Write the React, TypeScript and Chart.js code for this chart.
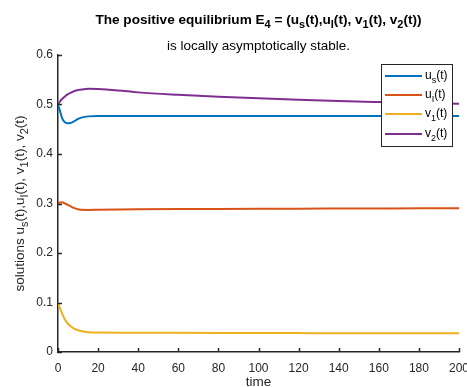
import React, { useEffect, useRef } from "react";
import { Chart, registerables } from "chart.js";

Chart.register(...registerables);

const FONT = '"Liberation Sans", Arial, Helvetica, sans-serif';
const INK = "#262626";

const titleLine1 = "The positive equilibrium E_{4} = (u_{s}(t),u_{I}(t), v_{1}(t), v_{2}(t))";
const titleLine2 = "is locally asymptotically stable.";
const yTitle = "solutions u_{s}(t),u_{I}(t), v_{1}(t), v_{2}(t)";
const xTitle = "time";

const seriesLabels = ["u_{s}(t)", "u_{I}(t)", "v_{1}(t)", "v_{2}(t)"];
const seriesColors = ["#0072BD", "#D95319", "#EDB120", "#7E2F8E"];

const times = [0, 1, 2, 3, 4, 5, 6, 7, 8, 10, 12, 15, 20, 30, 40, 60, 80, 100, 120, 140, 160, 180, 200];
const uS = [0.5, 0.487, 0.473, 0.466, 0.463, 0.462, 0.4625, 0.464, 0.466, 0.471, 0.474, 0.476, 0.4768, 0.4768, 0.4768, 0.4768, 0.4768, 0.4767, 0.4767, 0.4767, 0.4767, 0.4767, 0.4767];
const uI = [0.3, 0.302, 0.3025, 0.301, 0.299, 0.297, 0.295, 0.2925, 0.291, 0.2885, 0.2872, 0.287, 0.2873, 0.2878, 0.2882, 0.2887, 0.289, 0.2893, 0.2896, 0.2898, 0.29, 0.2902, 0.2903];
const v1 = [0.1, 0.088, 0.078, 0.069, 0.062, 0.057, 0.053, 0.05, 0.047, 0.044, 0.042, 0.04, 0.0392, 0.039, 0.039, 0.0388, 0.0386, 0.0384, 0.0382, 0.038, 0.0379, 0.0378, 0.0377];
const v2 = [0.5, 0.506, 0.511, 0.5145, 0.518, 0.521, 0.523, 0.525, 0.527, 0.529, 0.5305, 0.532, 0.5315, 0.5285, 0.5245, 0.5195, 0.5155, 0.5125, 0.5095, 0.507, 0.505, 0.5032, 0.5017];
const seriesValues = [uS, uI, v1, v2];

const xTicks = [0, 20, 40, 60, 80, 100, 120, 140, 160, 180, 200];
const yTicks = [0, 0.1, 0.2, 0.3, 0.4, 0.5, 0.6];

type Part = { t: string; sub: boolean };

function parseRich(s: string): Part[] {
  const parts: Part[] = [];
  const re = /_\{([^}]*)\}/g;
  let last = 0;
  let m: RegExpExecArray | null;
  while ((m = re.exec(s)) !== null) {
    if (m.index > last) parts.push({ t: s.slice(last, m.index), sub: false });
    parts.push({ t: m[1], sub: true });
    last = m.index + m[0].length;
  }
  if (last < s.length) parts.push({ t: s.slice(last), sub: false });
  return parts;
}

function drawRich(
  ctx: CanvasRenderingContext2D,
  s: string,
  x: number,
  y: number,
  size: number,
  bold: boolean,
  align: "left" | "center"
) {
  const parts = parseRich(s);
  const mainFont = `${bold ? "bold " : ""}${size}px ${FONT}`;
  const subFont = `${bold ? "bold " : ""}${Math.round(size * 0.78)}px ${FONT}`;
  let w = 0;
  for (const p of parts) {
    ctx.font = p.sub ? subFont : mainFont;
    w += ctx.measureText(p.t).width;
  }
  let cx = align === "center" ? x - w / 2 : x;
  ctx.textAlign = "left";
  ctx.textBaseline = "alphabetic";
  for (const p of parts) {
    ctx.font = p.sub ? subFont : mainFont;
    ctx.fillText(p.t, cx, y + (p.sub ? size * 0.32 : 0));
    cx += ctx.measureText(p.t).width;
  }
}

const decorPlugin = {
  id: "decor",
  afterDraw(chart: any) {
    const ctx: CanvasRenderingContext2D = chart.ctx;
    const area = chart.chartArea;
    const xs = chart.scales.x;
    const ys = chart.scales.y;
    const cxArea = (area.left + area.right) / 2;
    ctx.save();
    // inward ticks
    ctx.strokeStyle = INK;
    ctx.lineWidth = 1.5;
    ctx.beginPath();
    for (const v of xTicks) {
      const px = Math.round(xs.getPixelForValue(v)) + 0.5;
      ctx.moveTo(px, area.bottom);
      ctx.lineTo(px, area.bottom - 4);
    }
    for (const v of yTicks) {
      const py = Math.round(ys.getPixelForValue(v)) + 0.5;
      ctx.moveTo(area.left, py);
      ctx.lineTo(area.left + 4, py);
    }
    ctx.stroke();

    // titles
    ctx.fillStyle = "#000000";
    drawRich(ctx, titleLine1, cxArea, 24, 13.6, true, "center");
    drawRich(ctx, titleLine2, cxArea, 50, 13.5, false, "center");

    ctx.fillStyle = INK;
    drawRich(ctx, xTitle, cxArea, 386, 13.5, false, "center");

    ctx.save();
    ctx.translate(24, (area.top + area.bottom) / 2);
    ctx.rotate(-Math.PI / 2);
    drawRich(ctx, yTitle, 0, 0, 13.5, false, "center");
    ctx.restore();

    // legend
    const lx = 381, ly = 64, lw = 71, lh = 82;
    ctx.fillStyle = "#ffffff";
    ctx.fillRect(lx, ly, lw, lh);
    ctx.strokeStyle = INK;
    ctx.lineWidth = 1;
    ctx.strokeRect(lx + 0.5, ly + 0.5, lw, lh);
    const rowY = [76, 95, 114, 134];
    for (let i = 0; i < seriesLabels.length; i++) {
      ctx.strokeStyle = seriesColors[i];
      ctx.lineWidth = 2;
      ctx.beginPath();
      ctx.moveTo(385, rowY[i]);
      ctx.lineTo(422, rowY[i]);
      ctx.stroke();
      ctx.fillStyle = "#000000";
      drawRich(ctx, seriesLabels[i], 425, rowY[i] + 3, 12, false, "left");
    }
    ctx.restore();
  },
};

export default function App() {
  const ref = useRef<HTMLCanvasElement | null>(null);
  useEffect(() => {
    if (!ref.current) return;
    const datasets = seriesValues.map((vals, i) => ({
      label: seriesLabels[i],
      data: times.map((t, j) => ({ x: t, y: vals[j] })),
      borderColor: seriesColors[i],
      backgroundColor: seriesColors[i],
      borderWidth: 2,
      pointRadius: 0,
      cubicInterpolationMode: "monotone" as const,
      fill: false,
    }));
    const chart = new Chart(ref.current, {
      type: "line",
      data: { datasets },
      options: {
        responsive: false,
        animation: false,
        layout: { padding: { top: 55, right: 8, left: 0, bottom: 0 } },
        plugins: {
          legend: { display: false },
          title: { display: false },
          tooltip: { enabled: false },
        },
        scales: {
          x: {
            type: "linear",
            min: 0,
            max: 200,
            afterBuildTicks: (s: any) => {
              s.ticks = xTicks.map((v) => ({ value: v }));
            },
            ticks: {
              color: INK,
              font: { family: FONT, size: 12 },
              padding: 9,
              maxRotation: 0,
              autoSkip: false,
            },
            grid: { display: false, drawTicks: false },
            border: { display: true, color: INK, width: 1.5 },
            afterFit: (s: any) => {
              s.height = 35;
              s.paddingLeft = 0;
              s.paddingRight = 0;
            },
          },
          y: {
            type: "linear",
            min: 0,
            max: 0.6,
            afterBuildTicks: (s: any) => {
              s.ticks = yTicks.map((v) => ({ value: v }));
            },
            ticks: {
              color: INK,
              font: { family: FONT, size: 12 },
              padding: 5,
              autoSkip: false,
              callback: (v: any) => String(Math.round(Number(v) * 10) / 10),
            },
            grid: { display: false, drawTicks: false },
            border: { display: true, color: INK, width: 1.5 },
            afterFit: (s: any) => {
              s.width = 58;
              s.paddingTop = 0;
              s.paddingBottom = 0;
            },
          },
        },
      },
      plugins: [decorPlugin],
    });
    return () => chart.destroy();
  }, []);
  return (
    <div style={{ position: "absolute", left: 0, top: 0, width: 467, height: 387, background: "#fff" }}>
      <canvas ref={ref} width={467} height={387} style={{ width: 467, height: 387, display: "block" }} />
    </div>
  );
}
